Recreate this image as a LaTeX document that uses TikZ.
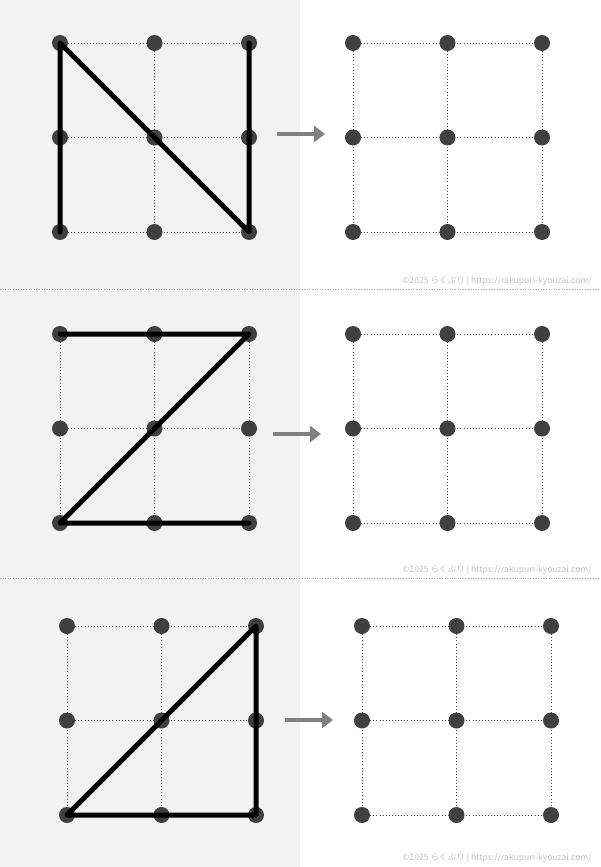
\documentclass[tikz,border=0pt]{standalone}
\usepackage{fontspec}
\newfontfamily\cjk{Noto Sans CJK JP}
\usetikzlibrary{arrows.meta}
\definecolor{bggray}{HTML}{F2F2F2}
\definecolor{dotgray}{HTML}{404040}
\definecolor{notegray}{HTML}{C4C4C4}
\definecolor{arrowgray}{HTML}{808080}
\tikzset{
	pt/.style={circle,fill=dotgray,inner sep=0pt,minimum size=16pt},
	gridline/.style={dotgray,line width=0.9pt,dash pattern=on 0.9pt off 2.2pt},
	stroke/.style={line width=5pt,line cap=round,line join=round},
	nextarrow/.style={arrowgray,line width=4.5pt,-{Triangle[length=11pt,width=16pt]}},
	sepline/.style={black!35,line width=0.8pt,dash pattern=on 1pt off 1.6pt},
	note/.style={notegray,font=\cjk\fontsize{8.6}{10}\selectfont,anchor=east,inner sep=0pt}
}
% 3x3 grid of points: name, x, y
\newcommand{\dotgrid}[3]{%
	\foreach \i in {0,1,2} \foreach \j in {0,1,2}
		\node[pt] (#1\i\j) at (#2+94.5*\i,#3+94.5*\j) {};
	\foreach \k in {0,1,2} {
		\draw[gridline] (#1\k0) -- (#1\k2);
		\draw[gridline] (#10\k) -- (#12\k);
	}
}
\begin{document}
\begin{tikzpicture}[x=1pt,y=-1pt]
	\useasboundingbox (0,0) rectangle (600,867);
	\fill[white] (0,0) rectangle (600,867);
	\fill[bggray] (0,0) rectangle (300,867);
	% separators
	\coordinate (sepa) at (0,289); \coordinate (sepb) at (600,289);
	\coordinate (sepc) at (0,578); \coordinate (sepd) at (600,578);
	\draw[sepline] (sepa) -- (sepb);
	\draw[sepline] (sepc) -- (sepd);
	% grids
	\dotgrid{A}{60}{43}
	\dotgrid{B}{353}{43}
	\dotgrid{C}{60}{334}
	\dotgrid{D}{353}{334}
	\dotgrid{E}{67}{626}
	\dotgrid{F}{362}{626}
	% N
	\draw[stroke] (A02.center) -- (A00.center) -- (A22.center) -- (A20.center);
	% Z
	\draw[stroke] (C00.center) -- (C20.center) -- (C02.center) -- (C22.center);
	% triangle
	\draw[stroke] (E02.center) -- (E20.center) -- (E22.center) -- (E02.center);
	% arrows
	\coordinate (arra) at (277,134); \coordinate (arrb) at (325,134);
	\coordinate (arrc) at (273,434); \coordinate (arrd) at (321,434);
	\coordinate (arre) at (285,720); \coordinate (arrf) at (333,720);
	\draw[nextarrow] (arra) -- (arrb);
	\draw[nextarrow] (arrc) -- (arrd);
	\draw[nextarrow] (arre) -- (arrf);
	% notes
	\node[note] (notea) at (592,281) {©2025 らくぷり | https://rakupuri-kyouzai.com/};
	\node[note] (noteb) at (592,570) {©2025 らくぷり | https://rakupuri-kyouzai.com/};
	\node[note] (notec) at (592,858) {©2025 らくぷり | https://rakupuri-kyouzai.com/};
\end{tikzpicture}
\end{document}
